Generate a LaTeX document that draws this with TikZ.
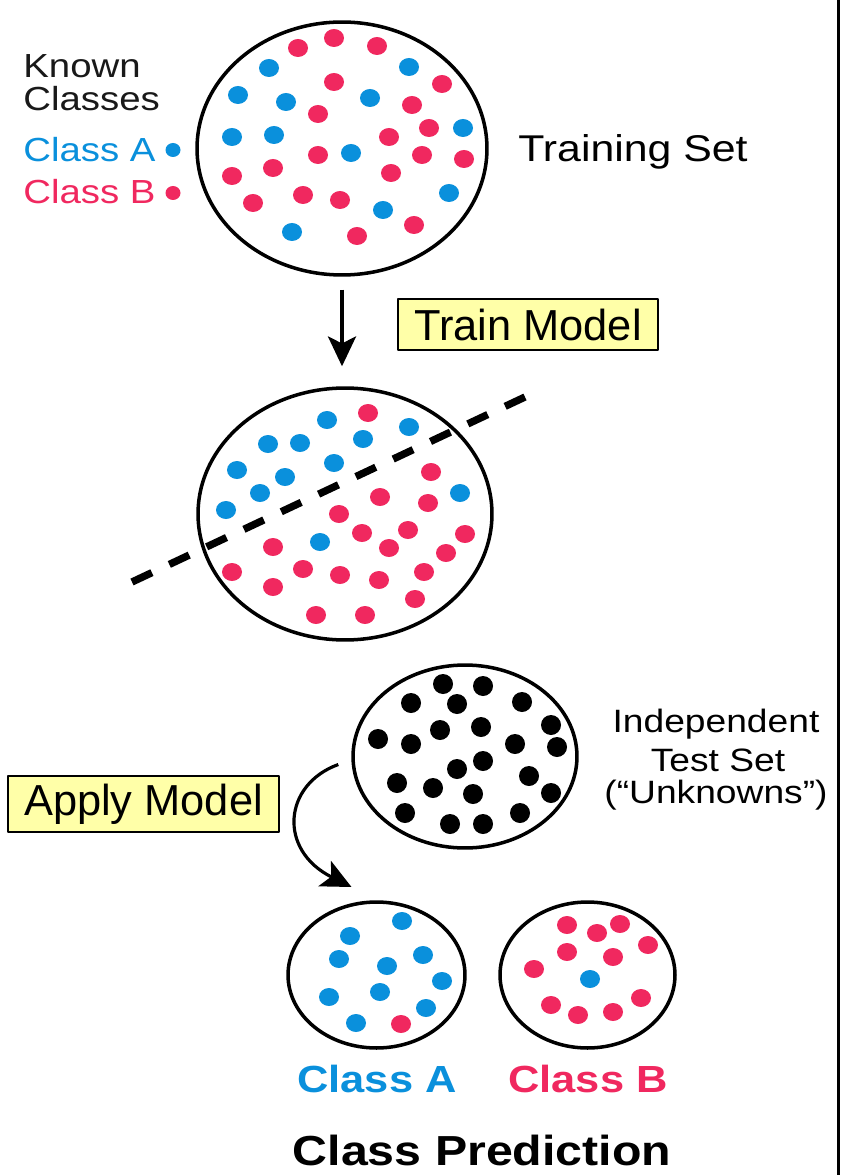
\documentclass[tikz,border=0pt]{standalone}
\usepackage{fontspec}
\setmainfont{Liberation Sans}[FakeStretch=1.15]
\newfontfamily\boxfont{Liberation Sans}
\usetikzlibrary{shapes.geometric,arrows.meta}
\definecolor{clsA}{RGB}{10,144,220}
\definecolor{clsB}{RGB}{240,40,95}
\definecolor{boxyellow}{RGB}{255,255,168}
\begin{document}
\begin{tikzpicture}[x=0.02cm, y=-0.02cm, line join=round, >={Stealth[length=17pt,width=16pt,inset=4pt]},
		set/.style={ellipse, draw, line width=2pt, inner sep=0pt},
		lbl/.style={anchor=base west, inner sep=0pt, font=\fontsize{19}{20}\selectfont, text=black!90},
		tag/.style={anchor=base, inner sep=0pt, font=\bfseries\fontsize{21.5}{23}\selectfont},
		modelbox/.style={draw, line width=1pt, fill=boxyellow, inner sep=0pt, font=\boxfont\fontsize{24.7}{26}\selectfont},
		arr/.style={->, line width=1.8pt}
		]
		\useasboundingbox (0,0) rectangle (843,1175);
		\draw[line width=1.7pt] (838,0)--(838,1175);
		% legend
		\node[lbl] (known) at (23,78) {Known};
		\node[lbl] (classes) at (23,111) {Classes};
		\node[lbl, text=clsA] (legA) at (23,162) {Class A};
		\node[lbl, text=clsB] (legB) at (23,204) {Class B};
		\fill[clsA] (173,150) circle[x radius=7.5, y radius=7];
		\fill[clsB] (173,193) circle[x radius=7.5, y radius=7];
		% training set
		\node[set, minimum width=5.8cm, minimum height=5.06cm] (train) at (342,148.5) {};
		\foreach \p in {(298,48),(334,38),(377,46),(334,82),(442,84),(318,114),(412,105),(429,128),(389,137),(318,155),(422,155),(464,159),(232,176),(273,168),(391,173),(253,203),(303,195),(340,200),(414,225),(357,236)}
			\fill[clsB] \p circle[x radius=10, y radius=9];
		\foreach \p in {(269,68),(409,67),(238,95),(286,102),(370,98),(232,137),(274,135),(463,128),(351,153),(449,193),(383,210),(292,232)}
			\fill[clsA] \p circle[x radius=10, y radius=9];
		\node[lbl, text=black, font=\fontsize{21.2}{22}\selectfont] (trainlbl) at (518,162) {Training Set};
		% trained model
		\node[set, minimum width=5.88cm, minimum height=5.04cm] (split) at (345,514) {};
		\foreach \p in {(368,413),(431,472),(380,497),(428,503),(339,514),(362,533),(408,530),(465,534),(389,548),(446,553),(273,547),(232,572),(303,569),(340,575),(379,580),(424,572),(273,587),(415,599),(316,615),(365,615)}
			\fill[clsB] \p circle[x radius=10, y radius=9];
		\foreach \p in {(327,420),(409,427),(268,444),(300,443),(363,439),(237,470),(285,477),(334,463),(260,493),(226,510),(460,493),(320,542)}
			\fill[clsA] \p circle[x radius=10, y radius=9];
		\coordinate (cutL) at (132,582);
		\coordinate (cutR) at (525,397);
		\draw[line width=4.2pt, dash pattern=on 0.44cm off 0.385cm] (cutL)--(cutR);
		\draw[arr, shorten <=0.26cm, shorten >=0.4cm] (train.south)--(train.south |- split.north);
		\node[modelbox, minimum width=5.2cm, minimum height=1.02cm] (trainbox) at (528,324.5) {Train Model};
		% test set
		\node[set, minimum width=4.48cm, minimum height=3.66cm] (test) at (465,756.5) {};
		\foreach \p in {(443,684),(483,686),(411,703),(457,704),(522,702),(440,730),(481,727),(551,725),(378,739),(411,744),(515,744),(557,747),(457,769),(483,761),(529,776),(397,783),(433,788),(473,794),(551,793),(405,813),(520,813),(450,824),(483,824)}
			\fill[black] \p circle[radius=10];
		\node[anchor=base, inner sep=0pt, font=\fontsize{18.4}{20}\selectfont] (ind1) at (716,732) {Independent};
		\node[anchor=base, inner sep=0pt, font=\fontsize{18.4}{20}\selectfont] (ind2) at (718,771) {Test Set};
		\node[anchor=base, inner sep=0pt, font=\fontsize{18.4}{20}\selectfont] (ind3) at (716,803) {(“Unknowns”)};
		\node[modelbox, minimum width=5.42cm, minimum height=1.12cm] (applybox) at (143.5,804) {Apply Model};
		% predictions
		\node[set, minimum width=3.54cm, minimum height=2.92cm] (predA) at (376.5,975) {};
		\foreach \p in {(402,921),(350,936),(339,959),(423,955),(387,966),(442,981),(329,997),(380,992),(426,1008),(356,1023)}
			\fill[clsA] \p circle[x radius=10, y radius=9];
		\fill[clsB] (401,1024) circle[x radius=10, y radius=9];
		\node[set, minimum width=3.5cm, minimum height=2.92cm] (predB) at (587.5,975) {};
		\foreach \p in {(567,925),(597,933),(620,924),(648,945),(567,952),(613,957),(534,969),(551,1005),(578,1015),(613,1012),(641,998)}
			\fill[clsB] \p circle[x radius=10, y radius=9];
		\fill[clsA] (590,979) circle[x radius=10, y radius=9];
		\draw[arr] ([shift={(-13,8)}]test.west) .. controls +(-55,20) and +(-74,-37) .. ([shift={(-25,-88)}]predA.center);
		\node[tag, text=clsA] (tagA) at (377,1092) {Class A};
		\node[tag, text=clsB] (tagB) at (588,1092) {Class B};
		\node[tag, font=\bfseries\fontsize{23.9}{25}\selectfont] (pred) at (482,1165) {Class Prediction};
\end{tikzpicture}
\end{document}
